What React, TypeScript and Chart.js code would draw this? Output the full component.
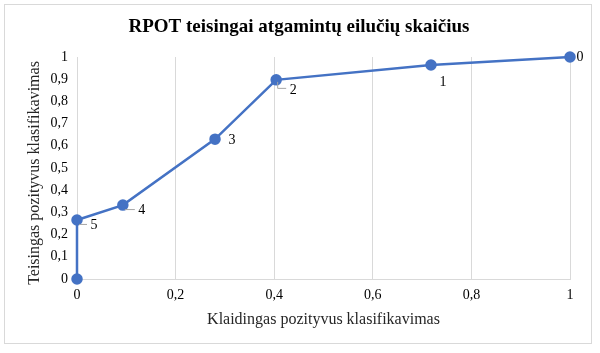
import React, { useEffect, useRef } from "react";
import { Chart, registerables } from "chart.js";

Chart.register(...registerables);

const fpr = [0, 0, 0.093, 0.28, 0.404, 0.718, 1];
const tpr = [0, 0.266, 0.333, 0.63, 0.897, 0.964, 1];
const pointLabels = ["", "5", "4", "3", "2", "1", "0"];
const titleText = "RPOT teisingai atgamintų eilučių skaičius";
const xTitle = "Klaidingas pozityvus klasifikavimas";
const yTitle = "Teisingas pozityvus klasifikavimas";

// label placement (dx, dy from point, leader style)
const labelPlacement = [
  null,
  { dx: 17, dy: 5, leader: "h" },
  { dx: 19, dy: 5, leader: "h" },
  { dx: 17, dy: 1, leader: "" },
  { dx: 17, dy: 10, leader: "L" },
  { dx: 12, dy: 17, leader: "" },
  { dx: 10, dy: 0, leader: "" },
];

const BLUE = "#4472c4";
const FONT = "'Liberation Serif', 'Times New Roman', serif";
const fmt = (v: number) => String(Math.round(v * 10) / 10).replace(".", ",");

const decorPlugin = {
  id: "decor",
  beforeDraw(chart: any) {
    const ctx = chart.ctx;
    ctx.save();
    ctx.fillStyle = "#ffffff";
    ctx.fillRect(0, 0, chart.width, chart.height);
    ctx.strokeStyle = "#d9d9d9";
    ctx.lineWidth = 1;
    ctx.strokeRect(4.5, 4.5, 587, 339);
    ctx.restore();
  },
  afterDraw(chart: any) {
    const ctx = chart.ctx;
    const ca = chart.chartArea;
    ctx.save();
    ctx.fillStyle = "#000000";
    ctx.textAlign = "center";
    ctx.textBaseline = "middle";
    ctx.font = `bold 19px ${FONT}`;
    ctx.fillText(titleText, 299, 27);
    ctx.font = `16px ${FONT}`;
    ctx.fillStyle = "#262626";
    ctx.fillText(xTitle, (ca.left + ca.right) / 2, 320);
    ctx.save();
    ctx.translate(35, (ca.top + ca.bottom) / 2 + 5);
    ctx.rotate(-Math.PI / 2);
    ctx.fillText(yTitle, 0, 0);
    ctx.restore();

    const meta = chart.getDatasetMeta(0);
    ctx.font = `14px ${FONT}`;
    ctx.fillStyle = "#000000";
    meta.data.forEach((pt: any, i: number) => {
      const lp = labelPlacement[i];
      const txt = pointLabels[i];
      if (!lp || !txt) return;
      const x = pt.x, y = pt.y;
      ctx.strokeStyle = "#a6a6a6";
      ctx.lineWidth = 1;
      if (lp.leader === "h") {
        ctx.beginPath();
        ctx.moveTo(x + 2, y + 4.5);
        ctx.lineTo(x + lp.dx - 7, y + 4.5);
        ctx.stroke();
      } else if (lp.leader === "L") {
        ctx.beginPath();
        ctx.moveTo(x + 1.5, y + 2);
        ctx.lineTo(x + 1.5, y + 8.5);
        ctx.lineTo(x + lp.dx - 7, y + 8.5);
        ctx.stroke();
      }
      ctx.textAlign = "center";
      ctx.fillText(txt, x + lp.dx, y + lp.dy);
    });
    ctx.restore();
  },
};

export default function App() {
  const ref = useRef<HTMLCanvasElement>(null);
  useEffect(() => {
    if (!ref.current) return;
    const chart = new Chart(ref.current, {
      type: "scatter",
      data: {
        datasets: [
          {
            data: fpr.map((x, i) => ({ x, y: tpr[i] })),
            showLine: true,
            borderColor: BLUE,
            backgroundColor: BLUE,
            borderWidth: 2.5,
            pointRadius: 4.5,
            pointHoverRadius: 4.5,
            clip: false as any,
          },
        ],
      },
      options: {
        responsive: false,
        animation: false,
        layout: { padding: { left: 0, top: 57, right: 30, bottom: 0 } },
        plugins: {
          legend: { display: false },
          tooltip: { enabled: false },
          title: { display: false },
        },
        scales: {
          x: {
            type: "linear",
            min: 0,
            max: 1,
            afterFit: (s: any) => {
              s.height = 74;
            },
            ticks: {
              stepSize: 0.2,
              padding: 8,
              color: "#000000",
              font: { family: FONT, size: 14 },
              callback: (v: any) => fmt(Number(v)),
            },
            grid: { color: "#d9d9d9", lineWidth: 1, drawTicks: false },
            border: { display: true, color: "#d9d9d9", width: 1 },
          },
          y: {
            type: "linear",
            min: 0,
            max: 1,
            afterFit: (s: any) => {
              s.width = 77;
            },
            ticks: {
              stepSize: 0.1,
              padding: 9,
              color: "#000000",
              font: { family: FONT, size: 14 },
              callback: (v: any) => fmt(Number(v)),
            },
            grid: { display: false, drawTicks: false },
            border: { display: true, color: "#d9d9d9", width: 1 },
          },
        },
      },
      plugins: [decorPlugin],
    });
    return () => chart.destroy();
  }, []);
  return (
    <div style={{ position: "absolute", left: 0, top: 0, width: 600, height: 353 }}>
      <canvas ref={ref} width={600} height={353} style={{ display: "block" }} />
    </div>
  );
}
